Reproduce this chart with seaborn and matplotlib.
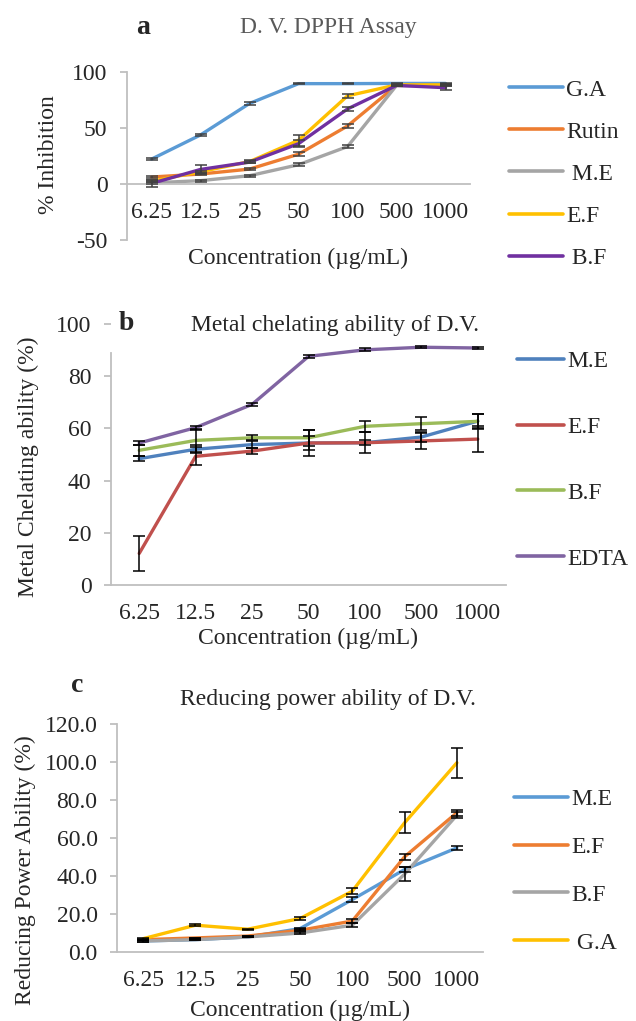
import numpy as np
import pandas as pd
import matplotlib
matplotlib.use("Agg")
import matplotlib.pyplot as plt
from matplotlib.lines import Line2D
import seaborn as sns

# ---------------------------------------------------------------------------
# Data
# ---------------------------------------------------------------------------
concentrations = ["6.25", "12.5", "25", "50", "100", "500", "1000"]

# a: DPPH assay, % inhibition
dpph_samples = ["G.A", "Rutin", "M.E", "E.F", "B.F"]
dpph_legend = ["G.A", "Rutin", " M.E", "E.F", " B.F"]
dpph_ga = [22.2, 43.8, 71.9, 89.6, 89.6, 89.8, 89.8]
dpph_rutin = [6.2, 8.9, 13.3, 26.6, 51.8, 88.0, 88.0]
dpph_me = [1.0, 3.0, 7.4, 17.2, 33.4, 88.0, 88.0]
dpph_ef = [2.4, 11.0, 20.0, 39.0, 78.7, 88.5, 88.5]
dpph_bf = [0.5, 13.0, 19.5, 36.0, 67.0, 88.0, 86.0]
dpph_ga_err = [1.0, 1.0, 1.0, 0.5, 0.5, 0.5, 0.5]
dpph_rutin_err = [1.0, 1.0, 1.0, 2.0, 2.0, 0.5, 0.5]
dpph_me_err = [1.0, 1.0, 1.0, 1.5, 1.5, 0.5, 0.5]
dpph_ef_err = [1.0, 1.0, 1.0, 5.0, 2.0, 0.5, 0.5]
dpph_bf_err = [3.0, 4.0, 1.0, 3.0, 2.0, 0.5, 2.0]
dpph_colors = ["#5B9BD5", "#ED7D31", "#A5A5A5", "#FFC000", "#7030A0"]

# b: metal chelating ability (%)
chel_samples = ["M.E", "E.F", "B.F", "EDTA"]
chel_me = [48.4, 52.0, 53.8, 54.4, 54.5, 56.7, 62.8]
chel_ef = [12.1, 49.3, 51.3, 54.4, 54.5, 55.2, 55.9]
chel_bf = [51.6, 55.4, 56.4, 56.4, 60.8, 61.8, 62.7]
chel_edta = [54.4, 60.3, 69.2, 87.6, 90.1, 91.1, 90.8]
chel_me_err = [1.0, 1.5, 1.5, 2.5, 1.0, 2.0, 2.8]
chel_ef_err = [6.8, 3.5, 1.2, 5.0, 4.0, 3.2, 5.0]
chel_bf_err = [2.0, 4.5, 1.0, 3.0, 2.0, 2.5, 3.0]
chel_edta_err = [0.8, 0.8, 0.6, 0.6, 0.6, 0.3, 0.3]
chel_colors = ["#4F81BD", "#C0504D", "#9BBB59", "#8064A2"]

# c: reducing power ability (%)
red_samples = ["M.E", "E.F", "B.F", "G.A"]
red_legend = ["M.E", "E.F", "B.F", " G.A"]
red_me = [5.8, 6.5, 7.9, 12.3, 27.6, 43.4, 54.8]
red_ef = [6.5, 7.4, 8.4, 11.4, 16.3, 50.1, 73.3]
red_bf = [5.8, 6.5, 7.9, 10.0, 14.1, 41.0, 72.0]
red_ga = [7.0, 14.1, 12.0, 17.6, 32.0, 68.0, 99.6]
red_me_err = [0.3, 0.2, 0.2, 0.5, 1.5, 1.5, 1.0]
red_ef_err = [0.3, 0.2, 0.2, 0.5, 1.0, 1.5, 1.5]
red_bf_err = [0.3, 0.2, 0.2, 0.5, 1.0, 3.5, 1.5]
red_ga_err = [0.5, 0.6, 0.3, 0.6, 1.5, 5.6, 7.9]
red_colors = ["#5B9BD5", "#ED7D31", "#A5A5A5", "#FFC000"]

W, H = 636, 1021
AXIS_GRAY = "#BFBFBF"
FS = 17
LETTER_FS = 20


def fx(x):
    return x / W


def fy(y):
    return 1 - y / H


def long_table(samples, series):
    rows = []
    for name, vals in zip(samples, series):
        for i, v in enumerate(vals):
            rows.append({"pos": i, "sample": name, "value": v})
    return pd.DataFrame(rows)


def make_panel(fig, rect, samples, series, errors, colors, ecolor, ylim, yticks, fmt):
    left, top, right, bottom = rect
    ax = fig.add_axes([fx(left), fy(bottom), fx(right - left), (bottom - top) / H])
    df = long_table(samples, series)
    sns.lineplot(data=df, x="pos", y="value", hue="sample", hue_order=samples,
                 palette=colors, linewidth=2.4, sort=False, legend=False, ax=ax,
                 zorder=2)
    for line in ax.lines:
        line.set_solid_capstyle("round")
    pos = np.arange(len(concentrations))
    for vals, err in zip(series, errors):
        ax.errorbar(pos, vals, yerr=err, fmt="none", ecolor=ecolor,
                    elinewidth=1.1, capsize=4, capthick=1.1, zorder=3)
    ax.set_xlim(-0.5, len(concentrations) - 0.5)
    ax.set_ylim(*ylim)
    ax.set_xticks(pos)
    ax.set_xticklabels(concentrations)
    ax.set_yticks(yticks)
    ax.set_yticklabels([fmt.format(t) for t in yticks])
    ax.set_xlabel("")
    ax.set_ylabel("")
    for s in ["top", "right"]:
        ax.spines[s].set_visible(False)
    for s in ["left", "bottom"]:
        ax.spines[s].set_color(AXIS_GRAY)
        ax.spines[s].set_linewidth(1.3)
    ax.tick_params(axis="x", length=0, pad=13, labelsize=FS)
    ax.tick_params(axis="y", length=5, width=1.3, color=AXIS_GRAY,
                   direction="out", pad=9, labelsize=FS, left=True)
    ax.grid(False)
    return ax


def add_legend(ax, labels, colors, anchor, spacing, hlen=2.3):
    handles = [Line2D([0], [0], color=c, lw=2.6, solid_capstyle="round") for c in colors]
    ax.legend(handles, labels, loc="center left", bbox_to_anchor=anchor,
              bbox_transform=ax.figure.transFigure, frameon=False,
              fontsize=FS, handlelength=hlen, handletextpad=0.12,
              labelspacing=spacing, borderaxespad=0, borderpad=0)


def main():
    sns.set_style("white")
    plt.rcParams["font.family"] = ["Liberation Serif", "DejaVu Serif"]
    plt.rcParams["font.size"] = FS

    fig = plt.figure(figsize=(W / 100, H / 100), dpi=100)

    # =====================================================================
    # PANEL a: DPPH
    # =====================================================================
    ax_a = make_panel(fig, (127, 72, 470, 240), dpph_samples,
                      [dpph_ga, dpph_rutin, dpph_me, dpph_ef, dpph_bf],
                      [dpph_ga_err, dpph_rutin_err, dpph_me_err, dpph_ef_err, dpph_bf_err],
                      dpph_colors, "#404040", (-50, 100), [-50, 0, 50, 100], "{:g}")
    ax_a.spines["bottom"].set_position(("data", 0))
    add_legend(ax_a, dpph_legend, dpph_colors, (fx(509), fy(174)), 0.87)
    fig.text(fx(143), fy(27), "a", fontsize=LETTER_FS, fontweight="bold", ha="center", va="center")
    fig.text(fx(328), fy(27), "D. V. DPPH Assay", fontsize=FS, color="#595959",
             ha="center", va="center")
    fig.text(fx(48), fy(155), "% Inhibition", fontsize=FS, rotation=90,
             ha="center", va="center")
    fig.text(fx(298), fy(258), "Concentration (\u00b5g/mL)", fontsize=FS,
             ha="center", va="center")

    # =====================================================================
    # PANEL b: metal chelating
    # =====================================================================
    ax_b = make_panel(fig, (111, 324, 506, 585), chel_samples,
                      [chel_me, chel_ef, chel_bf, chel_edta],
                      [chel_me_err, chel_ef_err, chel_bf_err, chel_edta_err],
                      chel_colors, "black", (0, 100), [0, 20, 40, 60, 80, 100], "{:g}")
    ax_b.spines["left"].set_bounds(0, 89)
    add_legend(ax_b, chel_samples, chel_colors, (fx(517), fy(460)), 1.88, hlen=2.0)
    fig.text(fx(126), fy(323), "b", fontsize=LETTER_FS, fontweight="bold", ha="center", va="center")
    fig.text(fx(335), fy(326), "Metal chelating ability of D.V.", fontsize=FS,
             ha="center", va="center")
    fig.text(fx(28), fy(467), "Metal Chelating ability (%)", fontsize=FS, rotation=90,
             ha="center", va="center")
    fig.text(fx(308), fy(638), "Concentration (\u00b5g/mL)", fontsize=FS,
             ha="center", va="center")

    # =====================================================================
    # PANEL c: reducing power
    # =====================================================================
    ax_c = make_panel(fig, (117, 724, 483, 952), red_samples,
                      [red_me, red_ef, red_bf, red_ga],
                      [red_me_err, red_ef_err, red_bf_err, red_ga_err],
                      red_colors, "black", (0, 120), [0, 20, 40, 60, 80, 100, 120], "{:.1f}")
    add_legend(ax_c, red_legend, red_colors, (fx(514), fy(871)), 1.12)
    fig.text(fx(77), fy(686), "c", fontsize=LETTER_FS, fontweight="bold", ha="center", va="center")
    fig.text(fx(328), fy(699), "Reducing power ability of D.V.", fontsize=FS,
             ha="center", va="center")
    fig.text(fx(25), fy(870), "Reducing Power Ability (%)", fontsize=FS, rotation=90,
             ha="center", va="center")
    fig.text(fx(300), fy(1010), "Concentration (\u00b5g/mL)", fontsize=FS,
             ha="center", va="center")

    fig.savefig("out.png", dpi=100)
    plt.close(fig)


if __name__ == "__main__":
    main()
